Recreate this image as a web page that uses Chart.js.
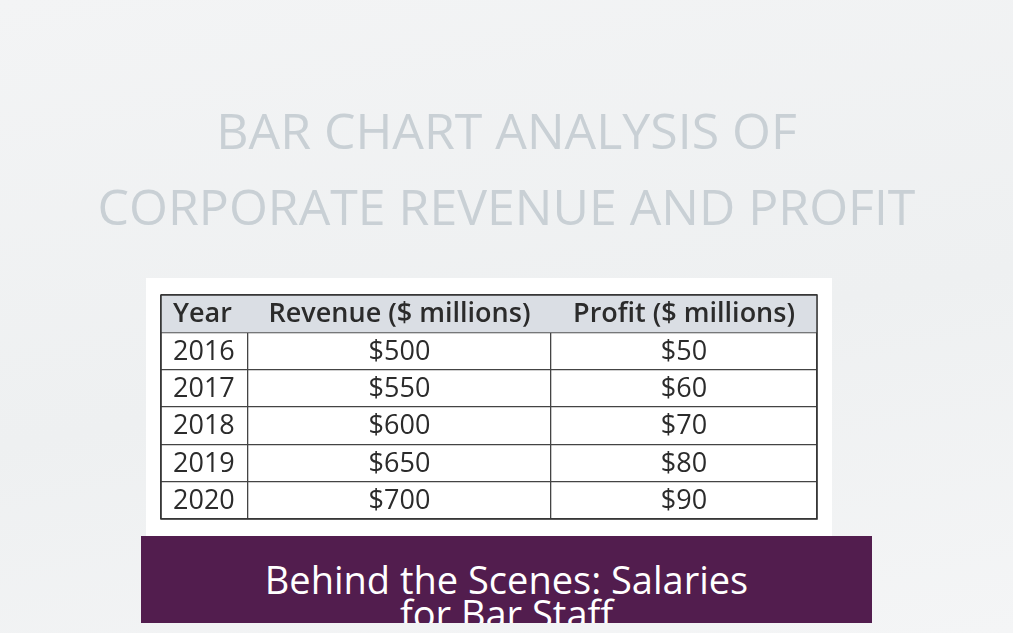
<!DOCTYPE html>
<html><head><meta charset="utf-8">
<script src="https://cdn.jsdelivr.net/npm/chart.js@4/dist/chart.umd.min.js"></script>
<style>
html,body{margin:0;width:1013px;height:633px;overflow:hidden;font-family:"Open Sans",sans-serif}
body{background:linear-gradient(170deg,#f3f4f5 0%,#eef0f1 55%,#f4f5f6 100%);position:relative}
#title{position:absolute;left:0;width:1013px;top:92px;text-align:center;color:#c9d0d5;font-size:50px;line-height:76px}
#card{position:absolute;left:146px;top:278px;width:686px;height:258px;background:#fff}
#wrap{position:absolute;left:159px;top:293px;width:660px;height:228px}
#banner{position:absolute;left:141px;top:536px;width:731px;height:87px;background:#521d4e;color:#fff;text-align:center;font-size:38px;line-height:34px;overflow:hidden}
#banner div{padding-top:26px}
</style></head><body>
<div id="title">BAR CHART ANALYSIS OF<br>CORPORATE REVENUE AND PROFIT</div>
<div id="card"></div>
<div id="wrap"><canvas id="c"></canvas></div>
<div id="banner"><div>Behind the Scenes: Salaries<br>for Bar Staff</div></div>
<script>
const headers=["Year","Revenue ($ millions)","Profit ($ millions)"];
const years=["2016","2017","2018","2019","2020"];
const revenue=[500,550,600,650,700];
const profit=[50,60,70,80,90];
const colEdges=[0,87,390,656];
const rows=years.length+1;
const tablePlugin={id:'tbl',
 beforeDatasetsDraw(ch){const {ctx,scales:{x,y}}=ch;ctx.save();ctx.fillStyle='#dadee4';
  ctx.fillRect(x.getPixelForValue(0),y.getPixelForValue(0),x.getPixelForValue(656)-x.getPixelForValue(0),y.getPixelForValue(1)-y.getPixelForValue(0));ctx.restore();},
 afterDraw(ch){const {ctx,scales:{x,y}}=ch;ctx.save();ctx.fillStyle='#2b2b2b';ctx.textBaseline='middle';
  const cells=[headers].concat(years.map((yr,i)=>[yr,'$'+revenue[i],'$'+profit[i]]));
  cells.forEach((r,ri)=>{const cy=y.getPixelForValue(ri+0.5)+1;
   r.forEach((t,ci)=>{ctx.font=(ri===0?'600 ':'')+'27px "Open Sans"';
    if(ci===0){ctx.textAlign='left';ctx.fillText(t,x.getPixelForValue(colEdges[0])+12,cy);}
    else{ctx.textAlign='center';ctx.fillText(t,(x.getPixelForValue(colEdges[ci])+x.getPixelForValue(colEdges[ci+1]))/2,cy);}
   });});
  ctx.strokeStyle='#333';ctx.lineWidth=1.5;ctx.strokeRect(x.getPixelForValue(0),y.getPixelForValue(0),x.getPixelForValue(656)-x.getPixelForValue(0),y.getPixelForValue(rows)-y.getPixelForValue(0));
  ctx.restore();}};
new Chart(document.getElementById('c'),{type:'scatter',data:{datasets:[{data:[]}]},
 options:{responsive:true,maintainAspectRatio:false,animation:false,layout:{padding:2},
  plugins:{legend:{display:false},tooltip:{enabled:false}},
  scales:{
   x:{type:'linear',min:0,max:656,afterBuildTicks:s=>{s.ticks=colEdges.map(v=>({value:v}));},
      ticks:{display:false},grid:{color:'#444',lineWidth:1.3,drawTicks:false},border:{display:false}},
   y:{type:'linear',min:0,max:rows,reverse:true,afterBuildTicks:s=>{s.ticks=Array.from({length:rows+1},(_,i)=>({value:i}));},
      ticks:{display:false},grid:{color:'#444',lineWidth:1.3,drawTicks:false},border:{display:false}}}},
 plugins:[tablePlugin]});
</script></body></html>
